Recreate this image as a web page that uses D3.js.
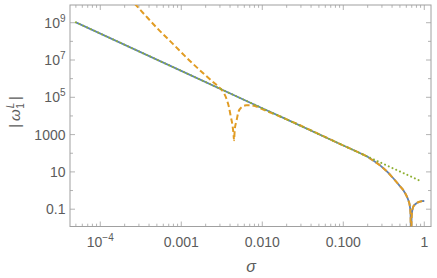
<!DOCTYPE html>
<html>
<head>
<meta charset="utf-8">
<script src="https://cdn.jsdelivr.net/npm/d3@7"></script>
<style>
  html, body { margin: 0; padding: 0; background: #ffffff; }
  svg { display: block; font-family: "Liberation Sans", Arial, sans-serif; }
</style>
</head>
<body>
<svg id="chart"></svg>
<script>
// values
const blueSigma = [5.0e-5, 1e-3, 1e-2, 0.1, 0.16, 0.178, 0.2, 0.224, 0.251, 0.282, 0.312, 0.355, 0.398, 0.435, 0.50, 0.551, 0.603, 0.634, 0.661, 0.676, 0.685, 0.70, 0.716, 0.731, 0.759, 0.794, 0.82, 0.871, 0.933, 1.0];
const blueOmega = [1.05e9, 2.6e6, 2.6e4, 262, 103, 83, 65, 46, 33, 23, 15.8, 9.5, 5.5, 3.55, 1.74, 1.05, 0.525, 0.31, 0.158, 0.063, 0.0025, 0.05, 0.10, 0.135, 0.17, 0.204, 0.224, 0.25, 0.27, 0.275];

const orangeSigma = [2.24e-4, 2.68e-4, 3.55e-4, 5.01e-4, 7.94e-4, 1.26e-3, 2.0e-3, 2.51e-3, 2.82e-3, 3.16e-3, 3.39e-3, 3.63e-3, 3.89e-3, 4.07e-3, 4.27e-3, 4.42e-3, 4.48e-3, 4.57e-3, 4.83e-3, 5.06e-3, 5.57e-3, 6.31e-3, 7.08e-3, 7.94e-3, 8.91e-3, 0.01, 0.0126, 0.0158, 0.02, 0.1, 0.16, 0.178, 0.2, 0.224, 0.251, 0.282, 0.312, 0.355, 0.398, 0.435, 0.50, 0.551, 0.603, 0.634, 0.661, 0.676, 0.685, 0.70, 0.716, 0.731, 0.759, 0.794, 0.82, 0.871, 0.933, 1.0];
const orangeOmega = [2.24e10, 1.0e10, 2.63e9, 5.25e8, 7.1e7, 9.5e6, 1.48e6, 6.2e5, 4.0e5, 2.5e5, 1.58e5, 7.9e4, 2.8e4, 1.0e4, 3.5e3, 1.0e3, 500, 1.8e3, 6.0e3, 1.6e4, 3.0e4, 3.7e4, 3.8e4, 3.5e4, 2.9e4, 2.3e4, 1.5e4, 1.02e4, 6.6e3, 262, 103, 83, 65, 46, 33, 23, 15.8, 9.5, 5.5, 3.55, 1.74, 1.05, 0.525, 0.31, 0.158, 0.063, 0.0025, 0.05, 0.10, 0.135, 0.17, 0.204, 0.224, 0.25, 0.27, 0.275];

const greenSigma = [5.0e-5, 1e-3, 1e-2, 0.1, 0.9];
const greenOmega = [1.05e9, 2.6e6, 2.6e4, 262, 3.25];

const xTickValues = [1e-4, 1e-3, 1e-2, 1e-1, 1];
const xTickLabels = [["10", "\u22124"], ["0.001"], ["0.010"], ["0.100"], ["1"]];
const yTickValues = [0.1, 10, 1000, 1e5, 1e7, 1e9];
const yTickLabels = [["0.1"], ["10"], ["1000"], ["10", "5"], ["10", "7"], ["10", "9"]];

const width = 437;
const height = 278;
const plotLeft = 70, plotRight = 431, plotTop = 5, plotBottom = 226.5;

const x = d3.scaleLog().domain([4.23e-5, 1.21]).range([plotLeft, plotRight]);
const y = d3.scaleLog().domain([0.0118, 8.9e9]).range([plotBottom, plotTop]);

const svg = d3.select("#chart").attr("width", width).attr("height", height);

svg.append("clipPath").attr("id", "plotclip")
  .append("rect")
  .attr("x", plotLeft).attr("y", plotTop)
  .attr("width", plotRight - plotLeft).attr("height", plotBottom - plotTop);

const frameColor = "#a0a0a0";
const textColor = "#5c5c5c";

// minor / major ticks
const xMinor = [];
for (let e = -5; e <= 0; e++) {
  for (let m = 1; m <= 9; m++) {
    const v = m * Math.pow(10, e);
    if (v >= x.domain()[0] && v <= x.domain()[1]) xMinor.push({ v, major: m === 1 });
  }
}
const yMinor = [];
for (let e = -1; e <= 9; e++) {
  yMinor.push({ v: Math.pow(10, e), major: e % 2 !== 0 });
}

const ticks = svg.append("g").attr("stroke", frameColor).attr("stroke-width", 0.8);
ticks.selectAll(".xb").data(xMinor).enter().append("line")
  .attr("x1", d => x(d.v)).attr("x2", d => x(d.v))
  .attr("y1", plotBottom).attr("y2", d => plotBottom - (d.major ? 5 : 2.8));
ticks.selectAll(".xt").data(xMinor).enter().append("line")
  .attr("x1", d => x(d.v)).attr("x2", d => x(d.v))
  .attr("y1", plotTop).attr("y2", d => plotTop + (d.major ? 5 : 2.8));
ticks.selectAll(".yl").data(yMinor).enter().append("line")
  .attr("y1", d => y(d.v)).attr("y2", d => y(d.v))
  .attr("x1", plotLeft).attr("x2", d => plotLeft + (d.major ? 5 : 3));
ticks.selectAll(".yr").data(yMinor).enter().append("line")
  .attr("y1", d => y(d.v)).attr("y2", d => y(d.v))
  .attr("x1", plotRight).attr("x2", d => plotRight - (d.major ? 5 : 3));

// frame
svg.append("rect")
  .attr("x", plotLeft).attr("y", plotTop)
  .attr("width", plotRight - plotLeft).attr("height", plotBottom - plotTop)
  .attr("fill", "none").attr("stroke", frameColor).attr("stroke-width", 1);

// tick labels
const xl = svg.append("g").attr("fill", textColor).attr("font-size", 14).attr("text-anchor", "middle");
xTickValues.forEach((v, i) => {
  const t = xl.append("text").attr("x", x(v)).attr("y", 246.5);
  t.append("tspan").text(xTickLabels[i][0]);
  if (xTickLabels[i][1]) {
    t.append("tspan").attr("dy", -6).attr("font-size", 10).text(xTickLabels[i][1]);
  }
});
const yl = svg.append("g").attr("fill", textColor).attr("font-size", 14).attr("text-anchor", "end");
yTickValues.forEach((v, i) => {
  const t = yl.append("text").attr("x", 65.5).attr("y", y(v) + 5);
  t.append("tspan").text(yTickLabels[i][0]);
  if (yTickLabels[i][1]) {
    t.append("tspan").attr("dy", -6).attr("font-size", 10).text(yTickLabels[i][1]);
  }
});

// axis labels
svg.append("text")
  .attr("x", 251).attr("y", 272)
  .attr("text-anchor", "middle").attr("font-size", 16)
  .attr("font-style", "italic").attr("fill", textColor)
  .text("\u03c3");

const ylab = svg.append("text")
  .attr("transform", "translate(19.5,112) rotate(-90)")
  .attr("text-anchor", "middle").attr("font-size", 15).attr("fill", textColor);
ylab.append("tspan").text("|");
ylab.append("tspan").attr("dx", 3).attr("font-style", "italic").text("\u03c9");
ylab.append("tspan").attr("dx", 1).attr("dy", -6).attr("font-size", 10).attr("font-style", "italic").text("L");
ylab.append("tspan").attr("dx", -6).attr("dy", 10).attr("font-size", 10).text("1");
ylab.append("tspan").attr("dx", 3).attr("dy", -4).text("|");

// curves
const line = d3.line()
  .x(d => x(d[0]))
  .y(d => y(d[1]))
  .curve(d3.curveMonotoneX);

const plot = svg.append("g").attr("clip-path", "url(#plotclip)").attr("fill", "none");

plot.append("path")
  .attr("d", line(d3.zip(blueSigma, blueOmega)))
  .attr("stroke", "#5e81b5").attr("stroke-width", 1.8);

plot.append("path")
  .attr("d", line(d3.zip(orangeSigma, orangeOmega)))
  .attr("stroke", "#e19c24").attr("stroke-width", 2)
  .attr("stroke-dasharray", "5.5,3");

plot.append("path")
  .attr("d", d3.line().x(d => x(d[0])).y(d => y(d[1]))(d3.zip(greenSigma, greenOmega)))
  .attr("stroke", "#8fb032").attr("stroke-width", 2)
  .attr("stroke-linecap", "round")
  .attr("stroke-dasharray", "0.1,4");
</script>
</body>
</html>
